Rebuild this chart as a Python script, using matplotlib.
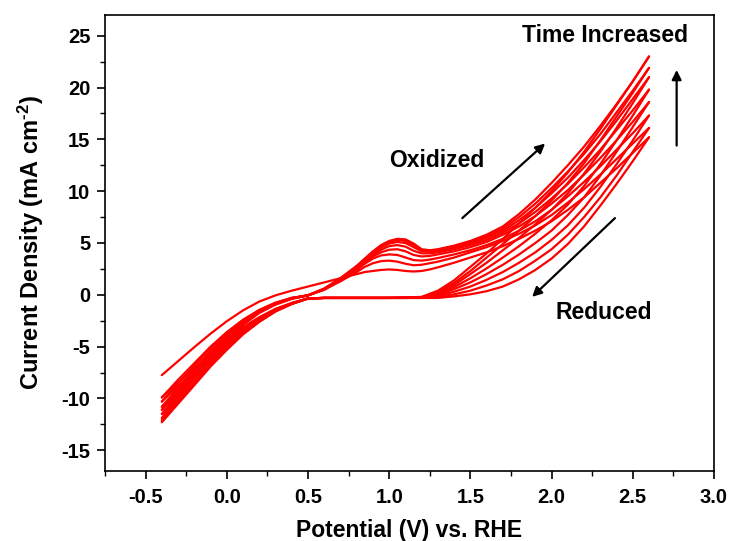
import matplotlib
matplotlib.use("Agg")
import matplotlib.pyplot as plt
from matplotlib.ticker import MultipleLocator

plt.rcParams['font.family'] = ['Liberation Sans', 'DejaVu Sans']
plt.rcParams['axes.unicode_minus'] = False
plt.rcParams['mathtext.fontset'] = 'custom'
plt.rcParams['mathtext.rm'] = 'Liberation Sans:bold'
plt.rcParams['mathtext.bf'] = 'Liberation Sans:bold'
plt.rcParams['mathtext.it'] = 'Liberation Sans:bold'

# Potential grids (V vs RHE)
potential_fwd = [-0.4, -0.3, -0.2, -0.1, 0.0, 0.1, 0.2, 0.3, 0.4, 0.5, 0.6, 0.7, 0.8, 0.9,
                 1.0, 1.1, 1.2, 1.3, 1.4, 1.5, 1.6, 1.7, 1.8, 1.9, 2.0, 2.1, 2.2, 2.3, 2.4, 2.5, 2.6]
potential_rev = [-0.4, -0.3, -0.2, -0.1, 0.0, 0.1, 0.2, 0.3, 0.4, 0.5, 0.6, 0.7, 0.8, 0.85, 0.9,
                 0.95, 1.0, 1.05, 1.1, 1.15, 1.2, 1.25, 1.3, 1.4, 1.5, 1.6, 1.7, 1.8, 1.9, 2.0,
                 2.1, 2.2, 2.3, 2.4, 2.5, 2.6]

# Anodic (lower-middle) branches, one per cycle (mA cm^-2)
fwd_c1 = [-9.9, -8.47, -7.04, -5.60, -4.31, -3.12, -2.16, -1.35, -0.78, -0.35, -0.3, -0.3, -0.3, -0.3,
          -0.3, -0.3, -0.3, -0.3, -0.15, 0.05, 0.35, 0.8, 1.5, 2.4, 3.5, 4.9, 6.6, 8.6, 10.7, 12.9, 15.2]
fwd_c2 = [-10.3, -8.81, -7.32, -5.82, -4.48, -3.24, -2.24, -1.40, -0.80, -0.35, -0.3, -0.3, -0.3, -0.3,
          -0.3, -0.3, -0.3, -0.2, 0.05, 0.4, 0.9, 1.5, 2.3, 3.3, 4.4, 5.8, 7.5, 9.4, 11.5, 13.8, 16.1]
fwd_c3 = [-10.8, -9.23, -7.67, -6.10, -4.69, -3.38, -2.33, -1.45, -0.82, -0.35, -0.3, -0.3, -0.3, -0.3,
          -0.3, -0.3, -0.3, -0.1, 0.3, 0.8, 1.45, 2.2, 3.1, 4.1, 5.3, 6.7, 8.4, 10.4, 12.6, 14.9, 17.3]
fwd_c4 = [-11.1, -9.49, -7.88, -6.26, -4.81, -3.47, -2.39, -1.48, -0.83, -0.35, -0.3, -0.3, -0.3, -0.3,
          -0.3, -0.3, -0.28, 0.0, 0.55, 1.2, 2.0, 2.9, 3.9, 5.0, 6.2, 7.7, 9.4, 11.5, 13.8, 16.2, 18.6]
fwd_c5 = [-11.5, -9.83, -8.16, -6.48, -4.98, -3.58, -2.47, -1.52, -0.85, -0.35, -0.3, -0.3, -0.3, -0.3,
          -0.3, -0.3, -0.27, 0.1, 0.75, 1.6, 2.55, 3.6, 4.7, 5.9, 7.2, 8.7, 10.5, 12.6, 14.9, 17.3, 19.8]
fwd_c6 = [-11.9, -10.17, -8.44, -6.70, -5.14, -3.70, -2.54, -1.56, -0.87, -0.35, -0.3, -0.3, -0.3, -0.3,
          -0.3, -0.28, -0.25, 0.2, 0.95, 2.0, 3.1, 4.3, 5.5, 6.8, 8.2, 9.8, 11.7, 13.8, 16.1, 18.5, 21.0]
fwd_c7 = [-12.1, -10.34, -8.58, -6.81, -5.23, -3.76, -2.58, -1.58, -0.88, -0.35, -0.3, -0.3, -0.3, -0.3,
          -0.3, -0.27, -0.22, 0.3, 1.15, 2.3, 3.6, 4.9, 6.2, 7.6, 9.1, 10.8, 12.7, 14.9, 17.2, 19.5, 21.9]
fwd_c8 = [-12.3, -10.51, -8.72, -6.92, -5.31, -3.82, -2.61, -1.61, -0.89, -0.35, -0.3, -0.3, -0.3, -0.3,
          -0.3, -0.25, -0.2, 0.4, 1.4, 2.7, 4.0, 5.4, 6.9, 8.4, 10.0, 11.8, 13.8, 16.0, 18.3, 20.6, 23.0]

# Return (upper-middle, with the ~1.05 V peak) branches, one per cycle
rev_c1 = [-7.75, -6.4, -5.05, -3.75, -2.55, -1.5, -0.65, -0.05, 0.4, 0.8, 1.2, 1.6, 2.0, 2.2, 2.3,
          2.4, 2.45, 2.4, 2.3, 2.25, 2.3, 2.45, 2.65, 3.1, 3.6, 4.1, 4.7, 5.4, 6.2, 7.1,
          8.2, 9.4, 10.8, 12.2, 13.7, 15.2]
rev_c2 = [-9.9, -8.2, -6.6, -5.0, -3.6, -2.4, -1.45, -0.75, -0.3, -0.05, 0.5, 1.3, 2.2, 2.7, 3.05,
          3.25, 3.3, 3.2, 3.0, 2.85, 2.9, 3.05, 3.2, 3.6, 4.1, 4.6, 5.2, 5.9, 6.7, 7.7,
          8.9, 10.2, 11.6, 13.1, 14.6, 16.1]
rev_c3 = [-10.3, -8.55, -6.8, -5.15, -3.7, -2.5, -1.5, -0.8, -0.3, -0.05, 0.5, 1.4, 2.4, 3.0, 3.5,
          3.8, 3.9, 3.85, 3.6, 3.35, 3.3, 3.4, 3.55, 3.9, 4.3, 4.8, 5.4, 6.2, 7.1, 8.2,
          9.5, 10.9, 12.4, 14.0, 15.6, 17.3]
rev_c4 = [-10.8, -8.95, -7.15, -5.4, -3.9, -2.6, -1.55, -0.8, -0.3, -0.05, 0.5, 1.45, 2.55, 3.15, 3.7,
          4.1, 4.35, 4.4, 4.2, 3.85, 3.7, 3.75, 3.9, 4.2, 4.6, 5.1, 5.8, 6.6, 7.6, 8.8,
          10.1, 11.6, 13.2, 14.9, 16.7, 18.6]
rev_c5 = [-11.1, -9.2, -7.35, -5.55, -4.0, -2.65, -1.6, -0.85, -0.35, -0.05, 0.55, 1.5, 2.6, 3.25, 3.85,
          4.35, 4.7, 4.8, 4.65, 4.25, 4.0, 4.0, 4.1, 4.4, 4.8, 5.3, 6.0, 6.9, 8.0, 9.3,
          10.7, 12.3, 14.0, 15.9, 17.8, 19.8]
rev_c6 = [-11.5, -9.55, -7.6, -5.75, -4.15, -2.75, -1.65, -0.9, -0.35, -0.05, 0.55, 1.55, 2.7, 3.35, 4.0,
          4.55, 4.95, 5.1, 5.0, 4.6, 4.2, 4.15, 4.25, 4.55, 4.95, 5.5, 6.2, 7.2, 8.4, 9.8,
          11.3, 13.0, 14.8, 16.8, 18.9, 21.0]
rev_c7 = [-11.9, -9.85, -7.85, -5.95, -4.3, -2.85, -1.7, -0.9, -0.35, -0.05, 0.6, 1.6, 2.75, 3.45, 4.1,
          4.7, 5.1, 5.3, 5.2, 4.8, 4.3, 4.25, 4.35, 4.65, 5.05, 5.65, 6.4, 7.5, 8.8, 10.3,
          11.9, 13.6, 15.5, 17.6, 19.7, 21.9]
rev_c8 = [-12.2, -10.1, -8.05, -6.1, -4.4, -2.9, -1.75, -0.95, -0.4, -0.05, 0.6, 1.6, 2.8, 3.5, 4.2,
          4.8, 5.2, 5.4, 5.35, 4.95, 4.4, 4.3, 4.4, 4.75, 5.2, 5.8, 6.6, 7.8, 9.2, 10.8,
          12.5, 14.3, 16.3, 18.4, 20.6, 23.0]

forward_branches = [fwd_c1, fwd_c2, fwd_c3, fwd_c4, fwd_c5, fwd_c6, fwd_c7, fwd_c8]
reverse_branches = [rev_c1, rev_c2, rev_c3, rev_c4, rev_c5, rev_c6, rev_c7, rev_c8]

x_ticks = [-0.5, 0.0, 0.5, 1.0, 1.5, 2.0, 2.5, 3.0]
y_ticks = [-15, -10, -5, 0, 5, 10, 15, 20, 25]

fig = plt.figure(figsize=(7.30, 5.41), dpi=100)
ax = fig.add_axes([105 / 730, 70 / 541, (714 - 105) / 730, (471 - 15) / 541])

line_color = '#ff0000'
for f, r in zip(forward_branches, reverse_branches):
    ax.plot(potential_fwd, f, color=line_color, lw=1.6, solid_capstyle='round')
    ax.plot(potential_rev, r, color=line_color, lw=1.6, solid_capstyle='round')

ax.set_xlim(-0.75, 3.0)
ax.set_ylim(-17, 27)
ax.set_xticks(x_ticks)
ax.set_xticklabels([f"{v:.1f}" for v in x_ticks])
ax.set_yticks(y_ticks)
ax.set_yticklabels([str(v) for v in y_ticks])
ax.xaxis.set_minor_locator(MultipleLocator(0.25))
ax.yaxis.set_minor_locator(MultipleLocator(2.5))
ax.tick_params(which='major', direction='out', length=6, width=1.2, labelsize=14.5)
ax.tick_params(axis='y', which='major', pad=4.5)
ax.tick_params(axis='x', which='major', pad=6)
ax.tick_params(which='minor', direction='out', length=3.5, width=1.0)
ax.tick_params(top=False, right=False, which='both')
for lab in ax.get_xticklabels() + ax.get_yticklabels():
    lab.set_fontweight('bold')
for sp in ax.spines.values():
    sp.set_linewidth(1.2)

ax.set_xlabel('Potential (V) vs. RHE', fontsize=16.5, fontweight='bold', labelpad=9)
ax.set_ylabel(r'Current Density (mA cm$^{\text{-2}}$)', fontsize=17, fontweight='bold', labelpad=11)

ax.text(2.33, 25.0, 'Time Increased', fontsize=16.5, fontweight='bold', ha='center', va='center')
ax.text(1.29, 13.0, 'Oxidized', fontsize=16.5, fontweight='bold', ha='center', va='center')
ax.text(2.32, -1.67, 'Reduced', fontsize=16.5, fontweight='bold', ha='center', va='center')

arrow_kw = dict(arrowstyle='-|>', color='black', lw=1.6, mutation_scale=14, shrinkA=0, shrinkB=0)
ax.annotate('', xy=(1.96, 14.6), xytext=(1.45, 7.4), arrowprops=arrow_kw)
ax.annotate('', xy=(1.88, -0.2), xytext=(2.39, 7.4), arrowprops=arrow_kw)
ax.annotate('', xy=(2.77, 21.7), xytext=(2.77, 14.4), arrowprops=arrow_kw)

fig.savefig('out.png', dpi=100)
